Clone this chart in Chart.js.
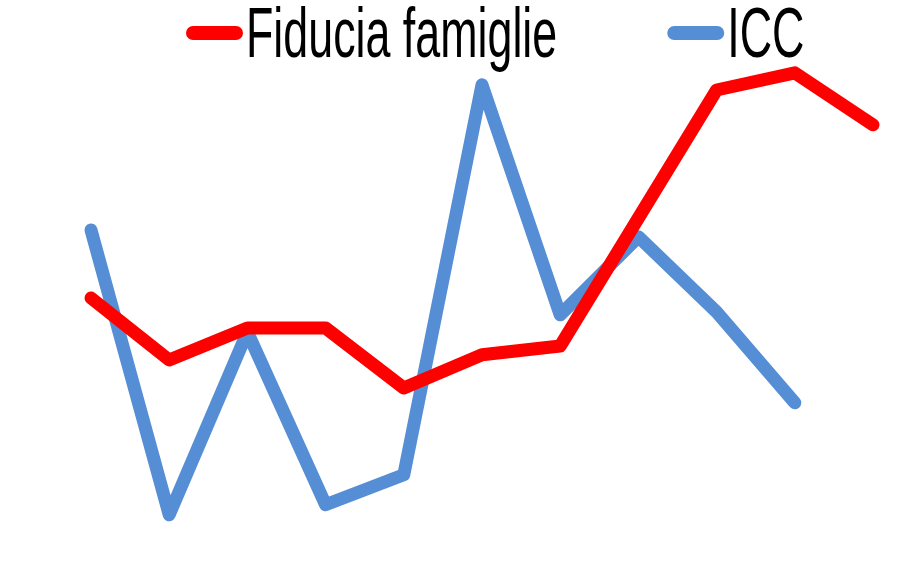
<!DOCTYPE html>
<html>
<head>
<meta charset="utf-8">
<script src="https://cdn.jsdelivr.net/npm/chart.js@4"></script>
<style>
  html, body { margin: 0; padding: 0; background: #fff; }
  #box { width: 903px; height: 576px; }
</style>
</head>
<body>
<div id="box"><canvas id="grafico"></canvas></div>
<script>
const periodi = ['1', '2', '3', '4', '5', '6', '7', '8', '9', '10', '11'];
const fiduciaFamiglie = [69.5, 54, 62, 62, 47, 55.3, 57.5, 89.5, 121.5, 125.8, 112.8];
const icc = [86.5, 15.3, 61, 17.8, 25.3, 122.8, 65.3, 84.8, 66, 43.3, null];
const nomi = ['Fiducia famiglie', 'ICC'];
const colori = ['#FF0000', '#558ED5'];

// legenda disegnata a mano: testo stretto come nell'originale
const legenda = {
  id: 'legenda',
  afterDraw(chart) {
    const ctx = chart.ctx;
    const sx = 0.64;
    let x = 186;
    ctx.save();
    ctx.font = '70px "Liberation Sans Narrow", "Liberation Sans", sans-serif';
    ctx.textBaseline = 'alphabetic';
    chart.data.datasets.forEach((ds, i) => {
      ctx.strokeStyle = ds.borderColor;
      ctx.lineWidth = 14;
      ctx.lineCap = 'round';
      ctx.beginPath();
      ctx.moveTo(x + 7, 33);
      ctx.lineTo(x + 50, 33);
      ctx.stroke();
      x += 60;
      const w = ctx.measureText(ds.label).width * sx;
      ctx.save();
      ctx.translate(x, 57);
      ctx.scale(sx, 1);
      ctx.fillStyle = '#000';
      ctx.fillText(ds.label, 0, 0);
      ctx.restore();
      x += w + 110;
    });
    ctx.restore();
  }
};

new Chart(document.getElementById('grafico'), {
  type: 'line',
  data: {
    labels: periodi,
    datasets: [{
      label: nomi[0],
      data: fiduciaFamiglie,
      borderColor: colori[0],
      backgroundColor: colori[0],
      borderWidth: 13,
      borderCapStyle: 'round',
      borderJoinStyle: 'round',
      pointRadius: 0,
      tension: 0,
      clip: false
    }, {
      label: nomi[1],
      data: icc,
      borderColor: colori[1],
      backgroundColor: colori[1],
      borderWidth: 13,
      borderCapStyle: 'round',
      borderJoinStyle: 'round',
      pointRadius: 0,
      tension: 0,
      clip: false
    }]
  },
  options: {
    responsive: true,
    maintainAspectRatio: false,
    animation: false,
    layout: { padding: { left: 91, right: 30, top: 0, bottom: 0 } },
    plugins: {
      legend: { display: false },
      tooltip: { enabled: false }
    },
    scales: {
      x: { display: false, offset: false },
      y: { display: false, min: 0, max: 144 }
    }
  },
  plugins: [legenda]
});
</script>
</body>
</html>
